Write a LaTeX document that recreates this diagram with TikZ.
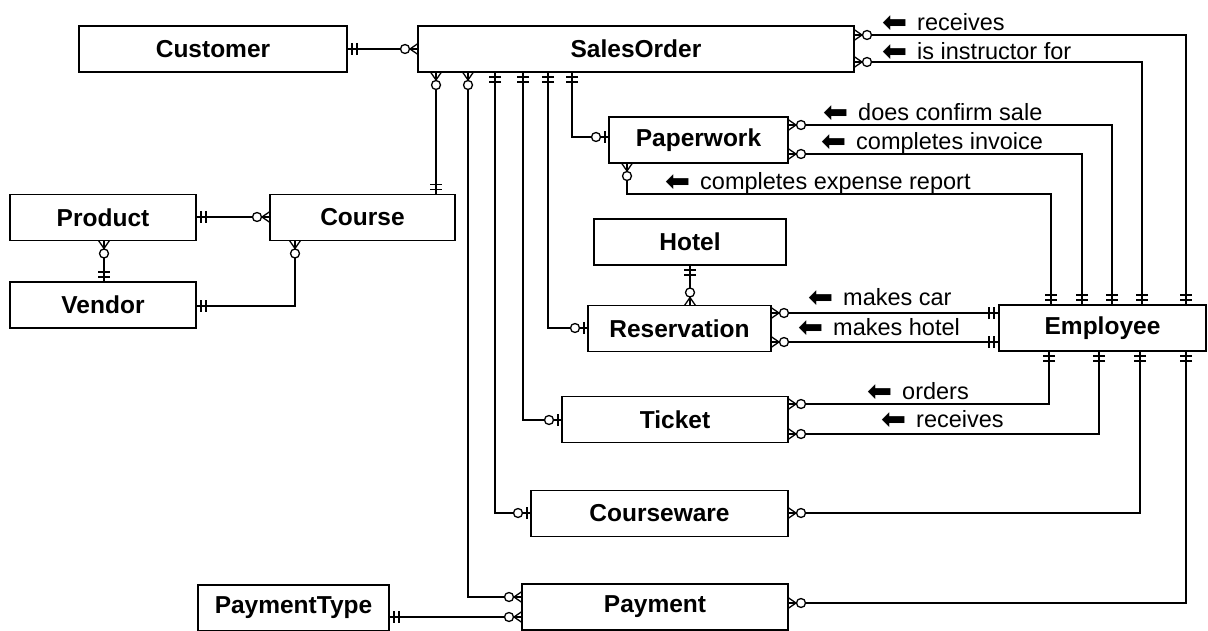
\documentclass[tikz,border=0pt]{standalone}
\usepackage{fontspec}
\setmainfont{Liberation Sans}
\newfontfamily\arrowfont{DejaVu Sans}
\begin{document}
\begin{tikzpicture}[x=1pt,y=-1pt,
  conn/.style={line width=1.3pt,black},
  ent/.style={draw,line width=1.3pt,fill=white,inner sep=0pt,outer sep=0pt,minimum height=46pt,
    font=\fontsize{24.5}{24}\selectfont\bfseries},
  lbl/.style={anchor=west,inner sep=0pt,font=\fontsize{23.5}{24}\selectfont},
  one/.pic={\draw[conn] (5,-6)--(5,6) (10,-6)--(10,6);},
  zone/.pic={\draw[conn] (4,-6)--(4,6); \draw[conn,fill=white] (13,0) circle[radius=4.5pt];},
  zmany/.pic={\draw[conn] (0,-5.5)--(8,0)--(0,5.5); \draw[conn,fill=white] (13,0) circle[radius=4.5pt];}
]
\newcommand\larr{\makebox[33pt][l]{\hspace{-2pt}\raisebox{-2.5pt}{\arrowfont\fontsize{30}{24}\selectfont ⬅}}}
\useasboundingbox (0,0) rectangle (1208,631);

% entities
\node[ent,minimum width=268pt] (Customer) at (213,49) {Customer};
\node[ent,minimum width=436pt] (SalesOrder) at (636,49) {SalesOrder};
\node[ent,minimum width=179pt] (Paperwork) at (698.5,140) {Paperwork};
\node[ent,minimum width=186pt] (Product) at (103,217.5) {Product};
\node[ent,minimum width=185pt] (Course) at (362.5,217.5) {Course};
\node[ent,minimum width=186pt] (Vendor) at (103,305) {Vendor};
\node[ent,minimum width=192pt] (Hotel) at (690,242) {Hotel};
\node[ent,minimum width=183pt] (Reservation) at (679.5,328.5) {Reservation};
\node[ent,minimum width=207pt] (Employee) at (1102.5,328) {Employee};
\node[ent,minimum width=226pt] (Ticket) at (675,419.5) {Ticket};
\node[ent,minimum width=257pt] (Courseware) at (659.5,513.5) {Courseware};
\node[ent,minimum width=266pt] (Payment) at (655,607) {Payment};
\node[ent,minimum width=191pt] (PaymentType) at (293.5,608) {PaymentType};

% connectors
\draw[conn] (Customer.east) -- (SalesOrder.west);
\draw[conn] (SalesOrder.south -| 436,0) -- (Course.north -| 436,0);
\draw[conn] (SalesOrder.south -| 468,0) |- (Payment.west |- 0,597);
\draw[conn] (SalesOrder.south -| 495,0) |- (Courseware.west |- 0,513);
\draw[conn] (SalesOrder.south -| 523,0) |- (Ticket.west |- 0,420);
\draw[conn] (SalesOrder.south -| 548,0) |- (Reservation.west |- 0,328);
\draw[conn] (SalesOrder.south -| 572,0) |- (Paperwork.west |- 0,137);
\draw[conn] (Product.east |- 0,217) -- (Course.west |- 0,217);
\draw[conn] (Product.south -| 104,0) -- (Vendor.north -| 104,0);
\draw[conn] (Vendor.east |- 0,306) -| (Course.south -| 295,0);
\draw[conn] (Hotel.south) -- (Reservation.north -| Hotel.south);
\draw[conn] (Reservation.east |- 0,313) -- (Employee.west |- 0,313);
\draw[conn] (Reservation.east |- 0,342) -- (Employee.west |- 0,342);
\draw[conn] (SalesOrder.east |- 0,35) -| (Employee.north -| 1186,0);
\draw[conn] (SalesOrder.east |- 0,62) -| (Employee.north -| 1142,0);
\draw[conn] (Paperwork.east |- 0,125) -| (Employee.north -| 1112,0);
\draw[conn] (Paperwork.east |- 0,154) -| (Employee.north -| 1082,0);
\draw[conn] (Paperwork.south -| 627,0) |- (1051,194) -- (Employee.north -| 1051,0);
\draw[conn] (Ticket.east |- 0,404) -| (Employee.south -| 1049,0);
\draw[conn] (Ticket.east |- 0,434) -| (Employee.south -| 1099,0);
\draw[conn] (Courseware.east |- 0,513) -| (Employee.south -| 1140,0);
\draw[conn] (Payment.east |- 0,603) -| (Employee.south -| 1186,0);
\draw[conn] (PaymentType.east |- 0,617) -- (Payment.west |- 0,617);

% cardinality markers
\pic at (Customer.east) {one};
\pic[rotate=180] at (SalesOrder.west) {zmany};
\pic[rotate=-90] at (SalesOrder.south -| 436,0) {zmany};
\pic[rotate=90] at (Course.north -| 436,0) {one};
\pic[rotate=-90] at (SalesOrder.south -| 468,0) {zmany};
\pic[rotate=180] at (Payment.west |- 0,597) {zmany};
\pic[rotate=-90] at (SalesOrder.south -| 495,0) {one};
\pic[rotate=180] at (Courseware.west |- 0,513) {zone};
\pic[rotate=-90] at (SalesOrder.south -| 523,0) {one};
\pic[rotate=180] at (Ticket.west |- 0,420) {zone};
\pic[rotate=-90] at (SalesOrder.south -| 548,0) {one};
\pic[rotate=180] at (Reservation.west |- 0,328) {zone};
\pic[rotate=-90] at (SalesOrder.south -| 572,0) {one};
\pic[rotate=180] at (Paperwork.west |- 0,137) {zone};
\pic at (Product.east |- 0,217) {one};
\pic[rotate=180] at (Course.west |- 0,217) {zmany};
\pic[rotate=-90] at (Product.south -| 104,0) {zmany};
\pic[rotate=90] at (Vendor.north -| 104,0) {one};
\pic at (Vendor.east |- 0,306) {one};
\pic[rotate=-90] at (Course.south -| 295,0) {zmany};
\pic[rotate=-90] at (Hotel.south) {one};
\pic[rotate=90] at (Reservation.north -| Hotel.south) {zmany};
\pic at (Reservation.east |- 0,313) {zmany};
\pic at (Reservation.east |- 0,342) {zmany};
\pic[rotate=180] at (Employee.west |- 0,313) {one};
\pic[rotate=180] at (Employee.west |- 0,342) {one};
\pic at (SalesOrder.east |- 0,35) {zmany};
\pic at (SalesOrder.east |- 0,62) {zmany};
\pic at (Paperwork.east |- 0,125) {zmany};
\pic at (Paperwork.east |- 0,154) {zmany};
\pic[rotate=-90] at (Paperwork.south -| 627,0) {zmany};
\pic at (Ticket.east |- 0,404) {zmany};
\pic at (Ticket.east |- 0,434) {zmany};
\pic at (Courseware.east |- 0,513) {zmany};
\pic at (Payment.east |- 0,603) {zmany};
\pic at (PaymentType.east |- 0,617) {one};
\pic[rotate=180] at (Payment.west |- 0,617) {zmany};
\foreach \xx in {1051,1082,1112,1142,1186} {\pic[rotate=90] at (Employee.north -| \xx,0) {one};}
\foreach \xx in {1049,1099,1140,1186} {\pic[rotate=-90] at (Employee.south -| \xx,0) {one};}

% labels
\node[lbl] (l1) at (884,23) {\larr receives};
\node[lbl] (l2) at (884,52) {\larr is instructor for};
\node[lbl] (l3) at (825,113) {\larr does confirm sale};
\node[lbl] (l4) at (823,143) {\larr completes invoice};
\node[lbl] (l5) at (667,183) {\larr completes expense report};
\node[lbl] (l6) at (810,298) {\larr makes car};
\node[lbl] (l7) at (800,328) {\larr makes hotel};
\node[lbl] (l8) at (869,392) {\larr orders};
\node[lbl] (l9) at (883,420) {\larr receives};
\end{tikzpicture}
\end{document}
